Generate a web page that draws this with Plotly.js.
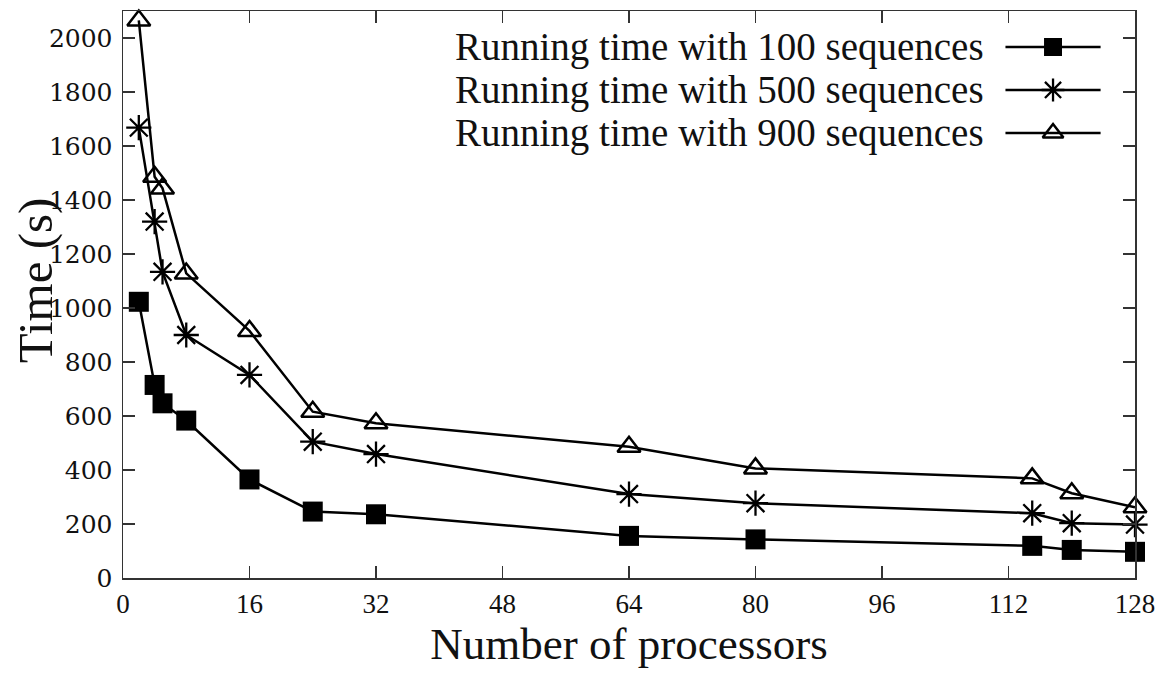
<!DOCTYPE html>
<html>
<head>
<meta charset="utf-8">
<script src="https://cdn.plot.ly/plotly-3.0.1.min.js"></script>
<style>html,body{margin:0;padding:0;background:#fff;}#chart{width:1167px;height:679px;}</style>
</head>
<body>
<div id="chart"></div>
<script>
const processors = [2, 4, 5, 8, 16, 24, 32, 64, 80, 115, 120, 128];
const time100 = [1023, 715, 647, 583, 365, 246, 236, 156, 143, 119, 104, 97];
const time500 = [1668, 1320, 1134, 900, 752, 505, 459, 311, 277, 240, 203, 198];
const time900 = [2065, 1486, 1443, 1128, 915, 616, 573, 486, 406, 369, 314, 262];
const seriesNames = ["Running time with 100 sequences", "Running time with 500 sequences", "Running time with 900 sequences"];
const xTicks = [0, 16, 32, 48, 64, 80, 96, 112, 128];
const yTicks = [0, 200, 400, 600, 800, 1000, 1200, 1400, 1600, 1800, 2000];

const serif = "Liberation Serif, Times New Roman, serif";
const styles = [
  {symbol: "square", size: 20, color: "#000", line: {width: 0}},
  {symbol: "asterisk-open", size: 21, color: "#000", line: {width: 2.3, color: "#000"}},
  {symbol: "triangle-up-open", size: 20, color: "#000", line: {width: 2.5, color: "#000"}}
];
const series = [time100, time500, time900];

const traces = series.map((ys, i) => ({
  x: processors, y: ys, type: "scatter", mode: "lines+markers",
  name: seriesNames[i], showlegend: false,
  line: {color: "#000", width: 2.5},
  marker: styles[i], cliponaxis: false
}));

// custom legend (text left, sample right) on an overlay axis spanning the plot area
const legendRows = [0.9365, 0.8607, 0.7848];
const annotations = [];
legendRows.forEach((yy, i) => {
  annotations.push({xref: "paper", yref: "paper", x: 0.853, y: yy, xanchor: "right", yanchor: "middle",
    text: seriesNames[i], showarrow: false, font: {family: serif, size: 39, color: "#111"}});
  traces.push({x: [0.872, 0.966], y: [yy, yy], xaxis: "x2", yaxis: "y2", type: "scatter", mode: "lines",
    line: {color: "#000", width: 2.5}, showlegend: false, hoverinfo: "skip"});
  traces.push({x: [0.919], y: [yy], xaxis: "x2", yaxis: "y2", type: "scatter", mode: "markers",
    marker: Object.assign({}, styles[i], {size: styles[i].size - 2}), showlegend: false, hoverinfo: "skip"});
});
// y-axis title placed as in the reference (slightly above plot centre)
annotations.push({xref: "paper", yref: "paper", x: -0.087, y: 0.525, xanchor: "center", yanchor: "middle",
  textangle: -90, text: "Time (s)", showarrow: false, font: {family: serif, size: 49, color: "#111"}});

const axisCommon = {
  showline: true, linecolor: "#333", linewidth: 1.5, mirror: "allticks",
  ticks: "inside", ticklen: 12, tickwidth: 1.3, tickcolor: "#333",
  showgrid: false, zeroline: false
};

const layout = {
  width: 1167, height: 679,
  margin: {l: 123, r: 32, t: 11, b: 101},
  paper_bgcolor: "#fff", plot_bgcolor: "#fff",
  showlegend: false,
  xaxis: Object.assign({}, axisCommon, {
    range: [0, 128], tickvals: xTicks, ticktext: xTicks.map(String),
    ticklabelstandoff: 1,
    tickfont: {family: serif, size: 27, color: "#111"},
    title: {text: "Number of processors", font: {family: serif, size: 45, color: "#111"}, standoff: 6}
  }),
  yaxis: Object.assign({}, axisCommon, {
    range: [0, 2100], tickvals: yTicks, ticktext: yTicks.map(String),
    ticklabelstandoff: 4,
    tickfont: {family: "DejaVu Serif, serif", size: 25, color: "#111"}
  }),
  xaxis2: {overlaying: "x", range: [0, 1], visible: false, fixedrange: true},
  yaxis2: {overlaying: "y", range: [0, 1], visible: false, fixedrange: true},
  annotations: annotations
};

Plotly.newPlot("chart", traces, layout, {staticPlot: true, displayModeBar: false});
</script>
</body>
</html>
